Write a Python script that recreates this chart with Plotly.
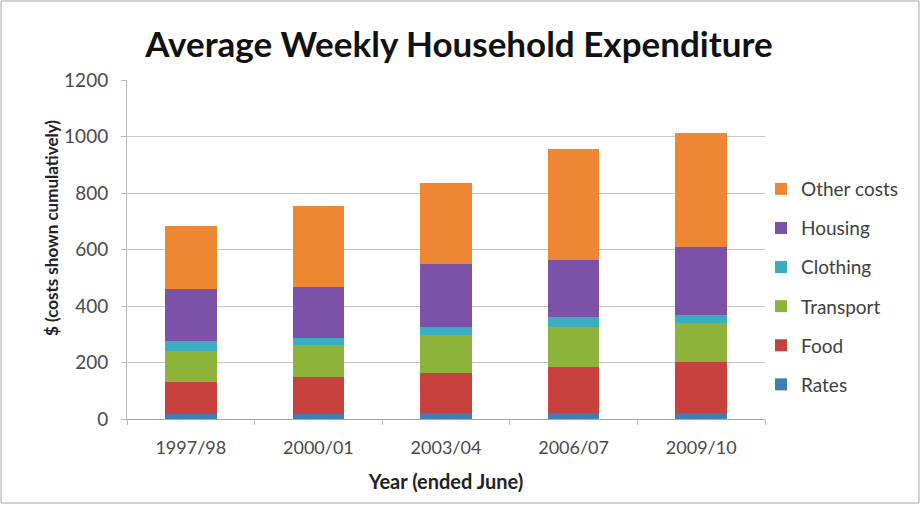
import plotly.graph_objects as go

years = ["1997/98", "2000/01", "2003/04", "2006/07", "2009/10"]
series_names = ["Rates", "Food", "Transport", "Clothing", "Housing", "Other costs"]
rates = [18, 18, 20, 20, 22]
food = [114, 132, 144, 165, 181]
transport = [110, 112, 133, 142, 137]
clothing = [35, 24, 30, 35, 28]
housing = [182, 182, 221, 201, 242]
other_costs = [225, 287, 286, 392, 401]
y_ticks = [0, 200, 400, 600, 800, 1000, 1200]

colors = ["#3F7DB5", "#C9413F", "#8DB33A", "#3AADC0", "#7B52A8", "#EE8733"]
values = [rates, food, transport, clothing, housing, other_costs]

fig = go.Figure()
for i, (name, vals, col) in enumerate(zip(series_names, values, colors)):
    fig.add_trace(go.Bar(
        x=years, y=vals, name=name, marker=dict(color=col, line=dict(width=0)),
        legendgroup=name, legendrank=100 - i,
    ))

W, H = 921, 505
ml, mr, mt, mb = 127, 156, 80, 86
pw, ph = W - ml - mr, H - mt - mb

fig.update_layout(
    width=W, height=H,
    barmode="stack", bargap=0.595,
    margin=dict(l=ml, r=mr, t=mt, b=mb),
    paper_bgcolor="white", plot_bgcolor="white",
    font=dict(family="Lato, 'Open Sans', sans-serif", color="#404040", size=15),
    title=dict(text="<b>Average Weekly Household Expenditure</b>",
               x=459 / W, xanchor="center", y=1 - 45 / H, yanchor="middle",
               font=dict(size=35, color="#111111")),
    legend=dict(x=(761 - ml) / pw, xanchor="left", y=1 - (170 - mt) / ph, yanchor="top",
                traceorder="grouped", tracegroupgap=11.4,
                font=dict(size=19, color="#404040"), bgcolor="rgba(0,0,0,0)"),
    xaxis=dict(title=dict(text="<b>Year (ended June)</b>", font=dict(size=20, color="#222222"), standoff=18),
               showline=True, linecolor="#A8A8A8", linewidth=1,
               ticks="outside", ticklen=5, tickcolor="#B8B8B8", tickson="boundaries",
               ticklabelstandoff=12,
               tickfont=dict(size=18, color="#4A4A4A")),
    yaxis=dict(range=[0, 1200], tickvals=y_ticks, ticktext=[str(v) for v in y_ticks],
               showgrid=True, gridcolor="#C4C8CC", gridwidth=1, zeroline=False,
               showline=True, linecolor="#B8B8B8", ticks="outside", ticklen=5, tickcolor="#B8B8B8",
               ticklabelstandoff=9,
               tickfont=dict(size=19, color="#4A4A4A")),
    annotations=[dict(text="<b>$ (costs shown cumulatively)</b>", textangle=-90,
                      xref="paper", yref="paper",
                      x=(51 - ml) / pw, y=(mt + ph - 228) / ph,
                      xanchor="center", yanchor="middle", showarrow=False,
                      font=dict(size=17, color="#222222"))],
    shapes=[dict(type="rect", xref="paper", yref="paper",
                 x0=(1 - ml) / pw, x1=(W - 2 - ml) / pw,
                 y0=-(H - 2 - (mt + ph)) / ph, y1=(mt + ph - 1) / ph,
                 line=dict(color="#A8A8A8", width=1), fillcolor="rgba(0,0,0,0)", layer="below")],
)

fig.write_html("out.html", config={"displayModeBar": False},
               post_script="document.body.style.margin='0';")
